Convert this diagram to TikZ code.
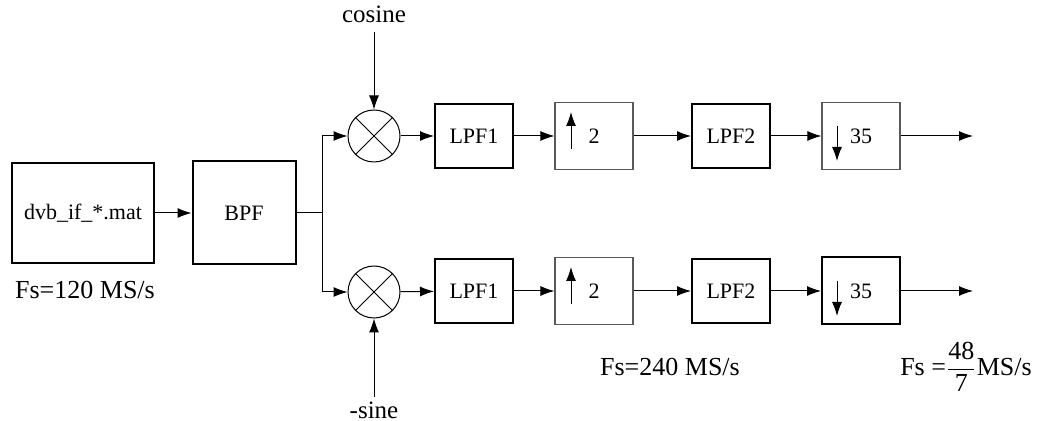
\documentclass[tikz,border=0pt]{standalone}
\usepackage{fontspec}
\setmainfont{Liberation Serif}
\usepackage{amsmath}
\usetikzlibrary{arrows.meta}

\tikzset{
  blk/.style={draw, line width=1pt, minimum width=39pt, minimum height=32pt, inner sep=0pt},
  fin/.style={draw=gray!70!black, line width=0.6pt, minimum width=39pt, minimum height=33.5pt, inner sep=0pt},
  mix/.style={draw, circle, line width=0.5pt, minimum size=26pt, inner sep=0pt},
  arr/.style={-{Latex[length=7pt,width=5pt]}, line width=0.5pt},
  lbl/.style={inner sep=0pt},
  big/.style={font=\fontsize{13}{15}\selectfont}
}

\begin{document}
\begin{tikzpicture}[x=0.5pt, y=-0.5pt, font=\fontsize{11}{13}\selectfont]
\useasboundingbox (0,0) rectangle (1037,421);
% Source et filtre passe-bande
\node[blk, minimum width=71pt, minimum height=50pt] (src) at (83,213) {dvb\_if\_*.mat};
\node[blk, minimum width=51.5pt, minimum height=51.5pt] (bpf) at (244,213) {BPF};
\node[lbl, big] (fsa) at (85,290) {Fs=120 MS/s};
\draw[arr] (src) -- (bpf);
% Branchement
\coordinate (split) at (322,213);
\draw[line width=0.5pt] (bpf.east) -- (split);
% Melangeurs
\node[mix] (mixA) at (374,136) {};
\node[mix] (mixB) at (374,292) {};
\foreach \m in {mixA,mixB}{
  \draw[line width=0.5pt] (\m.north east) -- (\m.south west);
  \draw[line width=0.5pt] (\m.north west) -- (\m.south east);
}
\draw[arr] (split) |- (mixA);
\draw[arr] (split) |- (mixB);
\node[lbl, font=\fontsize{12.5}{14}\selectfont] (cos) at (374,14) {cosine};
\node[lbl, font=\fontsize{12.5}{14}\selectfont] (sin) at (374,410) {-sine};
\draw[arr, shorten <=4.5pt] (cos) -- (mixA);
\draw[arr, shorten <=2pt] (sin) -- (mixB);
% Deux voies
\foreach \r/\y/\s in {A/136/fin, B/291/blk}{
  \node[blk] (lpfa\r) at (474,\y) {LPF1};
  \node[fin] (up\r) at (594,\y) {2};
  \node[blk] (lpfb\r) at (731,\y) {LPF2};
  \node[\s, minimum height=33.5pt] (dn\r) at (861,\y) {35};
  \coordinate (out\r) at (973,\y);
  \draw[arr] (mix\r) -- (lpfa\r);
  \draw[arr] (lpfa\r) -- (up\r);
  \draw[arr] (up\r) -- (lpfb\r);
  \draw[arr] (lpfb\r) -- (dn\r);
  \draw[arr] (dn\r) -- (out\r);
  % fleches internes
  \draw[arr] ([xshift=-11.5pt,yshift=-6.5pt]up\r.center) -- ++(0,18.5pt);
  \draw[arr] ([xshift=-12pt,yshift=5pt]dn\r.center) -- ++(0,-17.5pt);
}
% Frequences
\node[lbl, big] (fsb) at (670,367) {Fs=240 MS/s};
\node[lbl, big] (fsc) at (966,367) {Fs =$\dfrac{\text{48}}{\text{7}}$MS/s};
\end{tikzpicture}
\end{document}
